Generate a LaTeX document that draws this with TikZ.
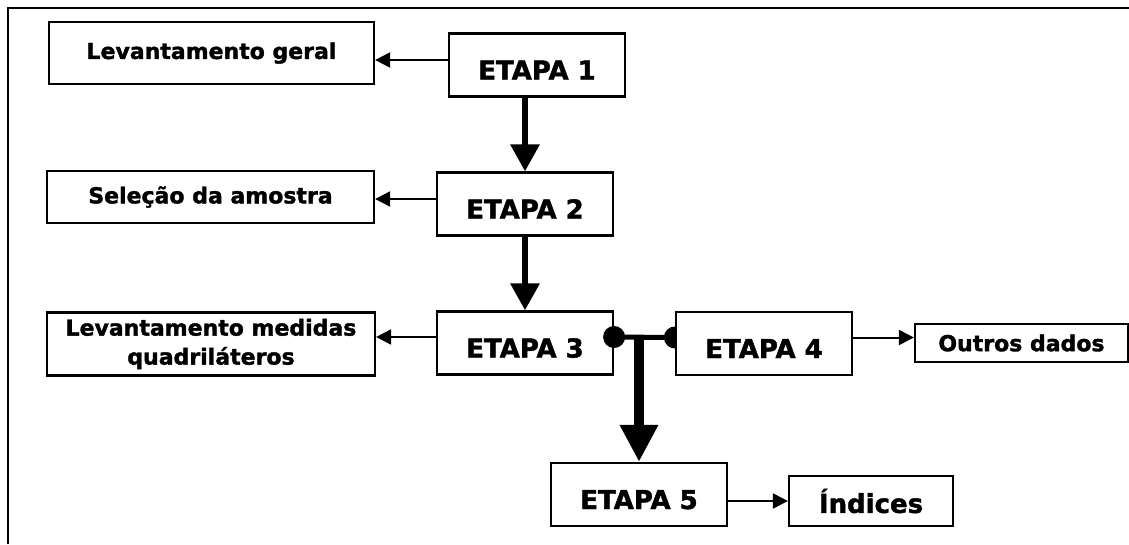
\documentclass[tikz,border=0pt]{standalone}
\usepackage{fontspec}
\setmainfont{DejaVu Sans}[BoldFeatures={FakeBold=1.6}]
\usetikzlibrary{arrows.meta}
\begin{document}
\begin{tikzpicture}[x=1pt,y=-1pt,
  box/.style={draw, line width=2.2pt, fill=white, inner sep=0pt, align=center,
    font=\bfseries\fontsize{22}{29}\selectfont},
  stage/.style={box, minimum width=176pt, minimum height=63pt,
    text height=29pt, text depth=0pt,
    font=\bfseries\fontsize{26}{30}\selectfont},
  thin/.style={line width=2pt, -{Triangle[length=15pt,width=15pt]}},
  thick/.style={line width=6pt, -{Triangle[length=27pt,width=28pt]}},
  heavy/.style={line width=10pt, -{Triangle[length=37pt,width=36pt]}}]
\useasboundingbox (0,0) rectangle (1129,544);
\fill[white] (0,0) rectangle (1129,544);
% frame edges
\draw[line width=2pt] (8,544) -- (8,8) -- (1129,8);

% stages
\node[stage] (e1) at (537,65) {ETAPA 1};
\node[stage] (e2) at (525,204) {ETAPA 2};
\node[stage] (e3) at (525,343) {ETAPA 3};
\node[stage] (e4) at (764,343.5) {ETAPA 4};
\node[stage] (e5) at (639,494.5) {ETAPA 5};

% outputs
\node[box, minimum width=325pt, minimum height=62pt] (lg) at (211.5,53) {Levantamento geral};
\node[box, minimum width=327pt, minimum height=52pt] (sa) at (210.5,197) {Seleção da amostra};
\node[box, minimum width=328pt, minimum height=63pt] (lm) at (211,344) {Levantamento medidas\\quadriláteros};
\node[box, minimum width=213pt, minimum height=38pt] (od) at (1021.5,343) {Outros dados};
\node[box, minimum width=164pt, minimum height=50pt,
  font=\bfseries\fontsize{26}{30}\selectfont] (ix) at (871,501) {Índices};

% main sequence
\draw[thick] (e1.south -| e2.north) -- (e2.north);
\draw[thick] (e2.south) -- (e3.north);

% side outputs
\draw[thin] ([yshift=5pt]e1.west) -- ([yshift=5pt]e1.west -| lg.east);
\draw[thin] ([yshift=5pt]e2.west) -- ([yshift=5pt]e2.west -| sa.east);
\draw[thin] ([yshift=6pt]e3.west) -- ([yshift=6pt]e3.west -| lm.east);
\draw[thin] ([yshift=6pt]e4.east) -- ([yshift=6pt]e4.east -| od.west);
\draw[thin] (ix.west -| e5.east) -- (ix.west);

% junction of stages 3 and 4 feeding stage 5
\coordinate (a3) at ([yshift=6pt]e3.east);
\coordinate (a4) at ([yshift=6pt]e4.west);
\coordinate (j) at (a3 -| e5.north);
\draw[line width=5pt] (a3) -- (a4);
\fill (a3) circle[radius=11pt];
\fill ([yshift=11pt]a4) arc[start angle=90, end angle=270, radius=11pt] -- cycle;
\draw[heavy] ([yshift=2pt]j) -- (e5.north);
\end{tikzpicture}
\end{document}
